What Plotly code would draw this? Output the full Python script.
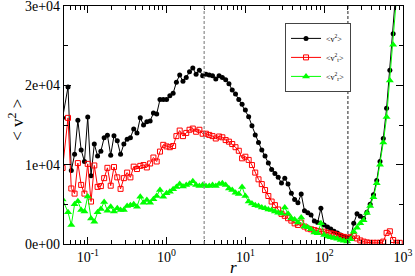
import math
import plotly.graph_objects as go

# radius bins (first one lies just left of the plotted range)
r = [0.048,
     0.05623, 0.06190, 0.06813, 0.07499, 0.08254, 0.09085,
     0.1000, 0.1101, 0.1212, 0.1334, 0.1468, 0.1616, 0.1778, 0.1957, 0.2154, 0.2371, 0.2610, 0.2873,
     0.3162, 0.3481, 0.3831, 0.4217, 0.4642, 0.5109, 0.5623, 0.6190, 0.6813, 0.7499, 0.8254, 0.9085,
     1.000, 1.101, 1.212, 1.334, 1.468, 1.616, 1.778, 1.957, 2.154, 2.371, 2.610, 2.873,
     3.162, 3.481, 3.831, 4.217, 4.642, 5.109, 5.623, 6.190, 6.813, 7.499, 8.254, 9.085,
     10.00, 11.01, 12.12, 13.34, 14.68, 16.16, 17.78, 19.57, 21.54, 23.71, 26.10, 28.73,
     31.62, 34.81, 38.31, 42.17, 46.42, 51.09, 56.23, 61.90, 68.13, 74.99, 82.54, 90.85,
     100.0, 110.1, 121.2, 133.4, 146.8, 161.6, 177.8, 195.7, 215.4, 237.1, 261.0, 287.3,
     316.2, 348.1, 383.1, 421.7, 464.2, 510.9, 562.3, 619.0, 681.3, 749.9, 825.4, 908.5]

v2_total = [15900,
    19800, 9250, 11300, 15600, 11850, 10400, 16000, 8600, 12600, 11100,
    11700, 13400, 13700, 11200, 13650, 13000, 11300, 12600, 13200, 13400,
    14500, 14000, 15900, 15000, 15400, 15500, 16500, 16400, 18200, 18200,
    18200, 18700, 19000, 20400, 21300, 20500, 21000, 21700, 22200, 21400,
    21900, 21200, 21400, 21300, 21200, 20800, 21200, 21000, 20700, 20200,
    19400, 18900, 18200, 17600, 16900, 16050, 14900, 13750, 12800, 11850,
    11100, 10200, 9400, 8900, 8400, 7700, 8300, 7550, 6400, 5600,
    5200, 6300, 4200, 3950, 3650, 2900, 2700, 4500, 2400, 2150,
    1900, 1600, 1400, 1150, 950, 800, 750, 2600, 3800, 3500,
    3200, 4000, 5000, 6200, 8000, 10400, 13300, 17100, 21900, 26500,
    32000, 38000]

v2_t = [9590,
    15900, 7000, 6350, 10200, 7450, 6350, 10100, 5350, 9900, 7200,
    7300, 8300, 9600, 7350, 9700, 8400, 6950, 8300, 9000, 8400,
    9750, 9450, 9850, 9950, 9650, 10150, 10900, 10400, 11650, 12500,
    12300, 12200, 12350, 13600, 14300, 13600, 14000, 14400, 14550, 14150,
    14400, 13900, 13900, 13750, 13600, 13300, 13550, 13450, 13100, 12900,
    12600, 12200, 11750, 10800, 11000, 10600, 9950, 9000, 8150, 7550,
    6800, 6050, 5350, 4900, 4350, 3800, 3550, 3250, 2950, 2600,
    2400, 2700, 2200, 1950, 1850, 1750, 1650, 1550, 1550, 1400,
    1350, 1250, 1150, 1000, 900, 800, 850, 1000, 700, 450,
    300, 200, 150, 150, 150, 150, 300, 1400, 1600, 500,
    150, 150]

v2_r = [5610,
    4000, 2400, 5000, 5400, 4300, 4100, 6000, 3200, 2800, 4000,
    4400, 5300, 4200, 4700, 4100, 4500, 4300, 4300, 4800, 4900,
    5000, 4700, 5950, 5200, 5550, 5200, 5650, 6050, 6800, 5950,
    6400, 6600, 6900, 7200, 7550, 7250, 7450, 7600, 7900, 7450,
    7300, 7450, 7300, 7300, 7450, 7300, 7550, 7650, 7450, 7000,
    6800, 6450, 6300, 7200, 6050, 5350, 5100, 4900, 4800, 4600,
    4500, 4350, 4300, 4100, 3950, 3850, 4600, 3800, 3250, 3100,
    2700, 3350, 2200, 2100, 1850, 1450, 1350, 2600, 1150, 950,
    850, 750, 650, 500, 400, 300, 600, 1550, 2050, 2600,
    3000, 3900, 4800, 5900, 7650, 10000, 12800, 16000, 20600, 25100,
    30500, 36000]

series_names = ["&lt;v<sup>2</sup>&gt;",
                "&lt;v<sup>2</sup><sub>t</sub>&gt;",
                "&lt;v<sup>2</sup><sub>r</sub>&gt;"]

x_ticks = [0.1, 1, 10, 100, 1000]
x_ticktext = ["10<sup>-1</sup>", "10<sup>0</sup>", "10<sup>1</sup>", "10<sup>2</sup>", "10<sup>3</sup>"]
y_ticks = [0, 10000, 20000, 30000]
y_ticktext = ["0e+00", "1e+04", "2e+04", "3e+04"]
y_minor = [5000, 15000, 25000]
ref_lines = [3, 200]

x_minor = [m * 10 ** e for e in range(-2, 3) for m in range(2, 10)]

SERIF = "Liberation Serif, Times New Roman, serif"

fig = go.Figure()
fig.add_trace(go.Scatter(x=r, y=v2_total, mode="lines+markers", name=series_names[0],
                         line=dict(color="black", width=1),
                         marker=dict(symbol="circle", size=5, color="black")))
fig.add_trace(go.Scatter(x=r, y=v2_t, mode="lines+markers", name=series_names[1],
                         line=dict(color="#ff0000", width=1),
                         marker=dict(symbol="square-open", size=5, color="#ff0000",
                                     line=dict(width=1, color="#ff0000"))))
fig.add_trace(go.Scatter(x=r, y=v2_r, mode="lines+markers", name=series_names[2],
                         line=dict(color="#00ff00", width=1),
                         marker=dict(symbol="triangle-up", size=7, color="#00ff00")))

fig.add_shape(type="line", xref="x", yref="paper", x0=ref_lines[0], x1=ref_lines[0], y0=0, y1=1,
              line=dict(color="#8a8a8a", width=1.2, dash="3px,2px"))
fig.add_shape(type="line", xref="x", yref="paper", x0=ref_lines[1], x1=ref_lines[1], y0=0, y1=1,
              line=dict(color="#222222", width=1, dash="3px,2px"))

fig.update_xaxes(type="log", range=[math.log10(0.05), 3], automargin=False,
                 tickmode="array", tickvals=x_ticks, ticktext=x_ticktext,
                 ticks="inside", ticklen=7, tickwidth=1, tickcolor="black",
                 showline=True, linecolor="black", linewidth=1.2, mirror="allticks",
                 showgrid=False, zeroline=False, ticklabeloverflow="allow",
                 tickfont=dict(family=SERIF, size=14, color="black"),
                 minor=dict(tickmode="array", tickvals=x_minor, ticks="inside",
                            ticklen=4, tickcolor="black", tickwidth=1, showgrid=False))
fig.update_yaxes(range=[0, 30000], automargin=False,
                 tickmode="array", tickvals=y_ticks, ticktext=y_ticktext,
                 ticks="inside", ticklen=7, tickwidth=1, tickcolor="black",
                 showline=True, linecolor="black", linewidth=1.2, mirror="allticks",
                 showgrid=False, zeroline=False, ticklabeloverflow="allow",
                 tickfont=dict(family=SERIF, size=14, color="black"),
                 minor=dict(tickmode="array", tickvals=y_minor, ticks="inside",
                            ticklen=4, tickcolor="black", tickwidth=1, showgrid=False))

fig.add_annotation(text="<i>r</i>", xref="paper", yref="paper", x=0.5, y=-0.097,
                   xanchor="center", yanchor="middle", showarrow=False,
                   font=dict(family=SERIF, size=17, color="black"))
fig.add_annotation(text="&lt; v<sup>2</sup> &gt;", xref="paper", yref="paper", x=-0.14, y=0.52,
                   xanchor="center", yanchor="middle", showarrow=False, textangle=-90,
                   font=dict(family=SERIF, size=17, color="black"))

fig.update_layout(width=415, height=276,
                  margin=dict(l=64, r=12, t=6, b=32, autoexpand=False),
                  plot_bgcolor="white", paper_bgcolor="white",
                  showlegend=True,
                  legend=dict(x=0.652, y=0.929, xanchor="left", yanchor="top",
                              bgcolor="white", bordercolor="#444444", borderwidth=1,
                              font=dict(family=SERIF, size=8, color="black"),
                              itemwidth=30, tracegroupgap=0,
                              entrywidth=30, entrywidthmode="pixels"))

fig.write_html("out.html", config={"displayModeBar": False},
               post_script="document.body.style.margin='0';document.body.style.padding='0';")
